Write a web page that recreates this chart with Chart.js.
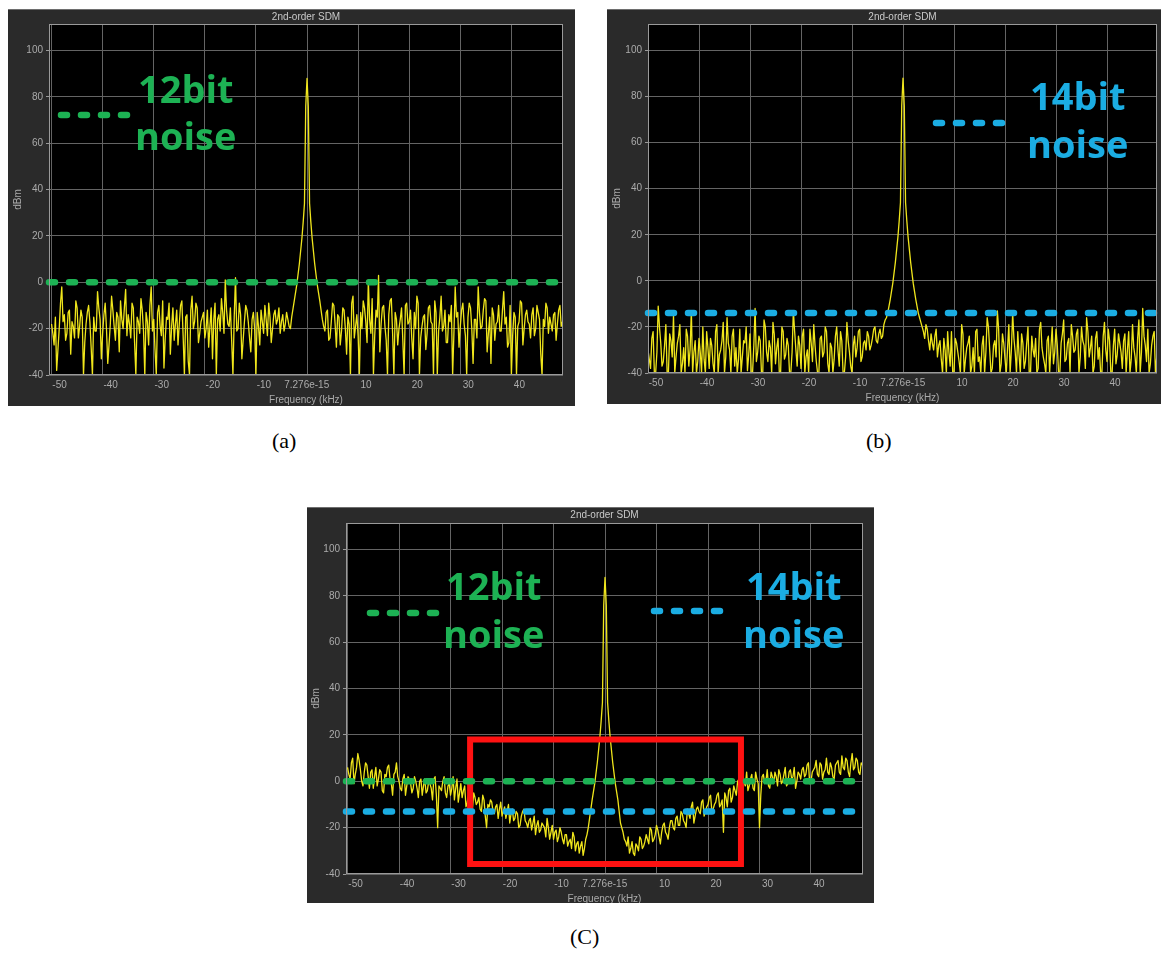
<!DOCTYPE html>
<html>
<head>
<meta charset="utf-8">
<title>2nd-order SDM spectra</title>
<script src="https://cdn.jsdelivr.net/npm/chart.js@4/dist/chart.umd.min.js"></script>
<style>
  html, body { margin: 0; padding: 0; background: #ffffff; }
  body { width: 1166px; height: 953px; position: relative; overflow: hidden; }
  canvas { position: absolute; }
  .cap { position: absolute; font-family: "Liberation Serif", "Times New Roman", serif;
         font-size: 22px; line-height: 26px; color: #000; }
</style>
</head>
<body>
<canvas id="chartA" width="567" height="397" style="left:8px;top:9px"></canvas>
<canvas id="chartB" width="554" height="395" style="left:607px;top:9px"></canvas>
<canvas id="chartC" width="567" height="396" style="left:307px;top:507px"></canvas>
<div class="cap" style="left:272px;top:428px">(a)</div>
<div class="cap" style="left:866px;top:428px">(b)</div>
<div class="cap" style="left:570px;top:924px">(C)</div>

<script>
// ---- frequency grid of the noise floor (kHz) ----
// "main" bins sit on x.0 / x.5 kHz, "mid" bins on x.25 / x.75 kHz
const BIN_KHZ = 0.5;
const MID_OFFSET_KHZ = 0.25;
const LEFT_START_KHZ = -50;   // left noise floor: -50 ... -3 kHz
const RIGHT_START_KHZ = 3;    // right noise floor:  3 ... 50 kHz

// ---- test tone around DC (same in all three captures) ----
const toneFreqs  = [-2.5, -2, -1.5, -1, -0.75, -0.5, -0.25, 0, 0.25, 0.5, 0.75, 1, 1.5, 2, 2.5];
const toneLevels = [-8, -1, 8, 19, 26, 34, 76, 88, 76, 34, 26, 19, 8, -1, -8];

// ---- (a) 12-bit quantiser, flat floor (dBm) ----
const aLeft = [
  -18, -27, -38, -20, -2, -14, -22, -12, -17, -24,
  -11, -19, -15, -26, -13, -17, -40, -21, -4, -16,
  -22, -9, -35, -18, -12, -25, -15, -8, -20, -3,
  -14, -24, -11, -40, -17, -7, -21, -13, -27, -2,
  -16, -40, -10, -23, -37, -15, -9, -19, -25, -12,
  -18, -8, -40, -14, -40, -6, -17, -11, -22, -15,
  -24, -12, -19, -33, -9, -16, -21, -13, 1, -18,
  -11, -40, 2, -20, -14, -25, -10, -17, -30, -13,
  -40, -19, -12, -22, -16, -9, -26, -14, -18, -11,
  -17, -21, -13, -19, -15
];
const aLeftMid = [
  -22, -15, -29, -9, -17, -25, -13, -31, -19, -8,
  -24, -12, -40, -18, -10, -28, -15, -21, -11, -33,
  -14, -20, -27, -6, -19, -13, -30, -16, -11, -23,
  -18, -9, -26, -15, -22, -12, -40, -17, -10, -21,
  -29, -13, -19, -8, -24, -16, -31, -11, -18, -27,
  -10, -23, -15, -34, -12, -20, -9, -26, -17, -13,
  -20, -28, -11, -16, -40, -14, -7, -22, -12, -19,
  -25, -15, -21, -9, -33, -17, -12, -24, -16, -20,
  -13, -27, -17, -10, -23, -15, -20, -12, -16, -22,
  -14, -18, -16, -20
];
const aRight = [
  -16, -21, -12, -24, -9, -18, -14, -27, -11, -20,
  -15, -40, -6, -19, -23, -13, -8, -17, 1, -22,
  -40, -12, 3, -18, -10, -25, -14, -7, -40, -16,
  -20, -11, -40, -9, -17, -24, -13, -6, -40, -19,
  -14, -22, -10, -18, -8, -40, -15, -21, -12, -26,
  -17, -40, -2, -13, -19, -9, -23, -15, -11, -35,
  -16, -2, -20, -12, -8, -22, -35, -14, -18, -10,
  -21, -4, -15, -26, -40, -13, -40, -17, -9, -20,
  -12, -18, -14, -23, -10, -16, -40, -19, -11, -15,
  -21, -13, -18, -10, -17
];
const aRightMid = [
  -19, -13, -25, -17, -10, -28, -15, -21, -12, -31,
  -18, -9, -24, -14, -40, -20, -11, -26, -16, -7,
  -23, -15, -30, -11, -19, -40, -8, -22, -13, -27,
  -16, -25, -10, -18, -12, -33, -20, -9, -24, -15,
  -29, -11, -17, -40, -13, -21, -6, -19, -26, -14,
  -10, -22, -15, -28, -12, -18, -40, -9, -20, -16,
  -24, -13, -19, -7, -30, -15, -11, -25, -17, -21,
  -12, -18, -28, -10, -23, -15, -19, -8, -27, -14,
  -17, -24, -11, -20, -13, -31, -16, -9, -22, -18,
  -14, -25, -12, -19
];

// ---- (b) 14-bit quantiser, flat floor (dBm) ----
const bLeft = [
  -30, -38, -22, -40, -11, -27, -35, -19, -40, -26,
  -15, -33, -24, -40, -29, -21, -37, -13, -31, -40,
  -25, -40, -34, -22, -38, -28, -40, -19, -32, -26,
  -40, -16, -30, -24, -37, -40, -21, -33, -27, -39,
  -23, -40, -12, -31, -26, -40, -20, -35, -29, -18,
  -36, -25, -40, -22, -32, -28, -40, -13, -30, -24,
  -38, -21, -33, -40, -27, -19, -35, -40, -24, -31,
  -22, -40, -29, -34, -20, -37, -26, -40, -18, -31,
  -40, -24, -29, -21, -33, -26, -22, -30, -25, -20,
  -27, -21, -24, -17, -14
];
const bLeftMid = [
  -34, -25, -40, -31, -20, -37, -28, -40, -23, -33,
  -40, -27, -19, -36, -40, -24, -30, -40, -26, -35,
  -31, -20, -40, -29, -25, -36, -22, -40, -30, -18,
  -33, -27, -40, -21, -29, -34, -40, -26, -20, -32,
  -40, -28, -35, -24, -40, -17, -31, -26, -40, -23,
  -29, -40, -20, -34, -25, -40, -31, -22, -37, -28,
  -24, -40, -30, -21, -35, -28, -40, -25, -33, -20,
  -36, -27, -40, -24, -30, -22, -40, -33, -26, -37,
  -28, -33, -22, -35, -27, -30, -24, -28, -21, -26,
  -23, -25, -19, -16
];
const bRight = [
  -14, -18, -22, -19, -26, -23, -30, -21, -28, -34,
  -25, -40, -31, -22, -40, -27, -35, -19, -40, -29,
  -24, -37, -40, -21, -33, -28, -40, -16, -30, -38,
  -26, -13, -40, -23, -34, -29, -40, -14, -31, -22,
  -40, -27, -35, -20, -40, -30, -25, -38, -18, -33,
  -40, -24, -29, -36, -21, -40, -27, -17, -34, -25,
  -19, -31, -23, -40, -20, -28, -16, -33, -24, -37,
  -22, -29, -40, -18, -35, -26, -40, -21, -32, -27,
  -38, -23, -30, -40, -19, -33, -25, -40, -12, -28,
  -21, -36, -24, -40, -26
];
const bRightMid = [
  -16, -20, -25, -21, -30, -27, -24, -33, -26, -40,
  -30, -22, -37, -40, -25, -31, -40, -23, -34, -27,
  -40, -29, -22, -35, -40, -24, -31, -20, -40, -28,
  -33, -21, -36, -27, -40, -19, -30, -25, -40, -32,
  -23, -38, -27, -40, -24, -33, -40, -21, -29, -36,
  -26, -40, -20, -31, -28, -40, -23, -35, -27, -40,
  -24, -30, -21, -33, -26, -38, -22, -29, -40, -25,
  -34, -40, -24, -30, -21, -40, -28, -36, -23, -31,
  -26, -40, -22, -34, -29, -40, -17, -31, -24, -35,
  -40, -28, -22, -33
];

// ---- (C) 2nd-order noise shaping (dBm) ----
const cLeft = [
  6, 1, 10, 3, 12, 5, -2, 8, 2, 4,
  -3, 6, 1, 4, -5, 2, 7, -1, 3, 8,
  0, -4, 3, -2, 1, -5, 2, -3, 0, -6,
  1, -4, -1, -8, 2, -20, -3, 0, -5, -2,
  -6, 2, -3, -9, -1, -4, -11, -6, -8, -5,
  -10, -7, -13, -8, -20, -11, -9, -14, -10, -12,
  -15, -11, -13, -18, -12, -16, -14, -19, -13, -17,
  -20, -16, -18, -23, -17, -21, -19, -24, -20, -22,
  -25, -21, -24, -22, -27, -23, -26, -29, -24, -27,
  -31, -26, -29, -23, -16
];
const cLeftMid = [
  3, 8, -1, 6, 9, 0, 4, 7, -3, 5,
  2, -2, 5, -4, 3, 6, 1, -6, 4, 2,
  -3, 1, -6, 2, -1, -3, 0, -7, 1, -2,
  -5, 0, -3, 1, -6, -2, -4, 2, -7, -1,
  -3, -8, 1, -5, -7, -2, -9, -4, -12, -7,
  -9, -12, -6, -15, -10, -8, -13, -11, -16, -9,
  -13, -16, -10, -14, -17, -13, -20, -15, -12, -18,
  -17, -21, -15, -19, -22, -18, -20, -16, -25, -19,
  -22, -26, -20, -25, -23, -28, -25, -22, -30, -26,
  -28, -32, -25, -20
];
const cRight = [
  -18, -22, -26, -24, -29, -31, -27, -30, -25, -28,
  -23, -27, -21, -25, -19, -24, -22, -18, -23, -20,
  -17, -21, -15, -19, -14, -18, -12, -16, -9, -15,
  -11, -14, -8, -13, -10, -6, -12, -9, -5, -10,
  -22, -7, -4, -9, -2, -6, 1, -3, 0, 4,
  -2, 3, -4, 1, -20, 2, -1, 5, -3, 2,
  4, -2, 3, 0, 6, -1, 5, 2, -3, 4,
  1, 6, 3, 8, 0, 5, 9, 2, 7, 4,
  10, 3, 6, 1, 8, 4, 11, 5, 9, 2,
  12, 6, 9, 3, 7
];
const cRightMid = [
  -20, -25, -28, -31, -26, -32, -28, -24, -29, -26,
  -25, -20, -26, -23, -21, -27, -19, -22, -25, -17,
  -20, -16, -19, -13, -17, -20, -14, -11, -18, -12,
  -13, -9, -15, -11, -7, -13, -10, -6, -11, -8,
  -5, -11, -3, -7, -4, 0, -5, 2, -2, -4,
  1, -3, 4, -1, -6, 3, 0, -2, 4, -1,
  2, 5, -1, 3, -2, 4, 1, 6, 0, 3,
  5, 2, 7, -1, 4, 6, 3, 8, 1, 5,
  4, 8, 2, 7, 9, 3, 6, 10, 4, 8,
  5, 10, 4, 8
];

// ---- quantisation-noise reference levels (dBm) ----
const floor12bit  = 0;
const floor14bitB = -14;
const floor14bitC = -13;

// ---- in-band region outlined in (C) ----
const bandFreqs  = [-26.2, 26.4, 26.4, -26.2, -26.2, 26.4];
const bandLevels = [18.1, 18.1, -35.7, -35.7, 18.1, 18.1];

// ---- axes ----
const yTickValues = [-40, -20, 0, 20, 40, 60, 80, 100];
const xTickValues = [-50, -40, -30, -20, -10, 0, 10, 20, 30, 40];
const xTickLabels = ['-50', '-40', '-30', '-20', '-10', '7.276e-15      ', '10', '20', '30', '40'];
const Y_MIN = -40, Y_MAX = 111.5;

// ---- styles ----
const FRAME = '#2a2a2a';
const GRID = '#646464';
const BOX = '#9a9a9a';
const TICK_TEXT = '#ababab';
const TRACE = '#f0e61c';
const GREEN = '#1db254';
const BLUE = '#1bade3';
const RED = '#ff1212';
Chart.defaults.font.family = "'Liberation Sans', Arial, sans-serif";

// one side of the noise floor, main and mid bins interleaved
function floorSide(start, main, mid, pts) {
  main.forEach((v, i) => {
    pts.push({ x: start + i * BIN_KHZ, y: v });
    if (i < mid.length) pts.push({ x: start + i * BIN_KHZ + MID_OFFSET_KHZ, y: mid[i] });
  });
}

function spectrum(left, leftMid, right, rightMid) {
  const pts = [];
  floorSide(LEFT_START_KHZ, left, leftMid, pts);
  toneFreqs.forEach((f, i) => pts.push({ x: f, y: toneLevels[i] }));
  floorSide(RIGHT_START_KHZ, right, rightMid, pts);
  return pts;
}

function floorLine(level, color, xMin, xMax) {
  return {
    data: [{ x: xMin, y: level }, { x: xMax, y: level }],
    borderColor: color, borderWidth: 6.5, borderDash: [6, 14],
    borderCapStyle: 'round', pointRadius: 0, clip: 6
  };
}

// frame, black plot area, title, outline and the noise keys
function decor(p) {
  return {
    id: 'decor',
    beforeDraw(chart) {
      const { ctx, width, height, chartArea: a } = chart;
      ctx.save();
      ctx.fillStyle = FRAME;
      ctx.fillRect(0, 0, width, height);
      ctx.fillStyle = '#6e6e6e';
      ctx.fillRect(0, 0, width, 1);
      ctx.fillStyle = '#000';
      ctx.fillRect(a.left, a.top, a.right - a.left, a.bottom - a.top);
      ctx.fillStyle = '#c9c9c9';
      ctx.font = "10px 'Liberation Sans', Arial, sans-serif";
      ctx.textAlign = 'center';
      ctx.textBaseline = 'middle';
      ctx.fillText('2nd-order SDM', (a.left + a.right) / 2, p.titleY);
      ctx.restore();
    },
    afterDatasetsDraw(chart) {
      const { ctx, chartArea: a } = chart;
      ctx.save();
      ctx.strokeStyle = BOX;
      ctx.lineWidth = 1;
      ctx.strokeRect(a.left + 0.5, a.top + 0.5, a.right - a.left - 1, a.bottom - a.top - 1);
      ctx.restore();
    },
    afterDraw(chart) {
      const { ctx, chartArea: a } = chart;
      ctx.save();
      p.keys.forEach(k => {
        ctx.strokeStyle = k.color;
        ctx.lineWidth = 6.5;
        ctx.lineCap = 'round';
        ctx.setLineDash([6, 14]);
        ctx.beginPath();
        ctx.moveTo(a.left + k.sx, a.top + k.sy);
        ctx.lineTo(a.left + k.sx + 66, a.top + k.sy);
        ctx.stroke();
        ctx.setLineDash([]);
        ctx.fillStyle = k.color;
        ctx.font = "bold 38px 'Open Sans', sans-serif";
        ctx.textAlign = 'left';
        ctx.textBaseline = 'alphabetic';
        ctx.fillText(k.lines[0], a.left + k.tx, a.top + k.ty1);
        ctx.fillText(k.lines[1], a.left + k.tx - 3, a.top + k.ty2);
      });
      ctx.restore();
    }
  };
}

function makePanel(p) {
  const datasets = [];
  p.floors.forEach(f => datasets.push(floorLine(f.level, f.color, p.xMin, p.xMax)));
  if (p.band) {
    datasets.push({
      data: bandFreqs.map((f, i) => ({ x: f, y: bandLevels[i] })),
      borderColor: RED, borderWidth: 6, borderJoinStyle: 'miter',
      pointRadius: 0, clip: 6
    });
  }
  datasets.push({
    data: spectrum(p.left, p.leftMid, p.right, p.rightMid),
    borderColor: TRACE, borderWidth: 1.3, borderJoinStyle: 'round',
    pointRadius: 0, tension: 0
  });

  return new Chart(document.getElementById(p.id), {
    type: 'line',
    data: { datasets },
    plugins: [decor(p)],
    options: {
      responsive: false,
      animation: false,
      events: [],
      layout: { padding: { left: 0, top: p.T, right: p.R, bottom: 0 } },
      plugins: { legend: { display: false }, tooltip: { enabled: false } },
      scales: {
        x: {
          type: 'linear', min: p.xMin, max: p.xMax,
          afterFit: s => { s.height = p.B; },
          afterBuildTicks: s => { s.ticks = xTickValues.map(v => ({ value: v })); },
          grid: { color: GRID, drawTicks: false },
          border: { display: false },
          ticks: {
            color: TICK_TEXT, font: { size: 10 }, padding: 4,
            labelOffset: 8, autoSkip: false, maxRotation: 0,
            callback: (v, i) => xTickLabels[i]
          },
          title: {
            display: true, text: 'Frequency (kHz)', color: TICK_TEXT,
            font: { size: 10 }, padding: { top: 0, bottom: p.xTitlePad }
          }
        },
        y: {
          type: 'linear', min: Y_MIN, max: Y_MAX,
          afterFit: s => { s.width = p.L; },
          afterBuildTicks: s => { s.ticks = yTickValues.map(v => ({ value: v })); },
          grid: { color: GRID, drawTicks: true, tickLength: 3, tickColor: BOX },
          border: { display: false },
          ticks: { color: TICK_TEXT, font: { size: 10 }, padding: 3 },
          title: {
            display: true, text: 'dBm', color: TICK_TEXT,
            font: { size: 10 }, padding: { top: p.yTitlePad, bottom: 0 }
          }
        }
      }
    }
  });
}

makePanel({
  id: 'chartA', xMin: -50.5, xMax: 50.1,
  left: aLeft, leftMid: aLeftMid, right: aRight, rightMid: aRightMid,
  L: 41, T: 15, R: 12, B: 31, titleY: 8, xTitlePad: 0, yTitlePad: 4,
  floors: [{ level: floor12bit, color: GREEN }], band: false,
  keys: [{ color: GREEN, sx: 12, sy: 91, tx: 89, ty1: 79, ty2: 126, lines: ['12bit', 'noise'] }]
});

makePanel({
  id: 'chartB', xMin: -50.0, xMax: 49.8,
  left: bLeft, leftMid: bLeftMid, right: bRight, rightMid: bRightMid,
  L: 41, T: 15, R: 4, B: 31, titleY: 8, xTitlePad: 0, yTitlePad: 4,
  floors: [{ level: floor14bitB, color: BLUE }], band: false,
  keys: [{ color: BLUE, sx: 288, sy: 99, tx: 382, ty1: 86, ty2: 134, lines: ['14bit', 'noise'] }]
});

makePanel({
  id: 'chartC', xMin: -50.3, xMax: 50.1,
  left: cLeft, leftMid: cLeftMid, right: cRight, rightMid: cRightMid,
  L: 39, T: 16, R: 11, B: 29, titleY: 8, xTitlePad: -2, yTitlePad: 3,
  floors: [{ level: floor12bit, color: GREEN }, { level: floor14bitC, color: BLUE }], band: true,
  keys: [
    { color: GREEN, sx: 24, sy: 90, tx: 100, ty1: 77, ty2: 125, lines: ['12bit', 'noise'] },
    { color: BLUE, sx: 308, sy: 88, tx: 400, ty1: 77, ty2: 125, lines: ['14bit', 'noise'] }
  ]
});
</script>
</body>
</html>
